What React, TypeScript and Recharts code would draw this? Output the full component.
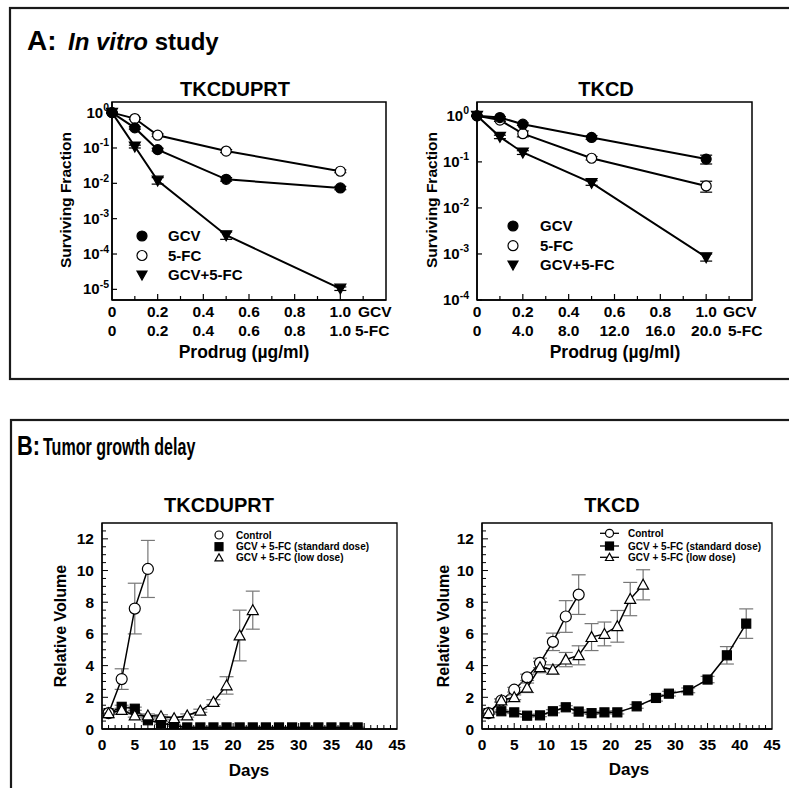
import React from 'react';
import { LineChart, Line, XAxis, YAxis, ErrorBar, ReferenceArea } from 'recharts';

const FONT = '"Liberation Sans", Arial, Helvetica, sans-serif';

// ---------- A: in vitro study ----------
const doses = [0, 0.1, 0.2, 0.5, 1.0];
const doseTicks = [0, 0.1, 0.2, 0.3, 0.4, 0.5, 0.6, 0.7, 0.8, 0.9, 1.0, 1.1, 1.2];
const gcvDoseLabels = ['0', '0.2', '0.4', '0.6', '0.8', '1.0'];
const fcDoseLabelsTkcduprt = ['0', '0.2', '0.4', '0.6', '0.8', '1.0'];
const fcDoseLabelsTkcd = ['0', '4.0', '8.0', '12.0', '16.0', '20.0'];

const tkcduprtGcv = [1, 0.37, 0.09, 0.013, 0.0074];
const tkcduprtGcvErr = [0.02, 0.03, 0.008, 0.0015, 0.0008];
const tkcduprtFc = [1, 0.68, 0.23, 0.082, 0.022];
const tkcduprtFcErr = [0.02, 0.04, 0.02, 0.008, 0.002];
const tkcduprtCombo = [1, 0.11, 0.012, 0.00034, 0.0000105];
const tkcduprtComboErr = [0.02, 0.01, 0.0025, 0.00008, 0.0000012];

const tkcdGcv = [1, 0.92, 0.66, 0.34, 0.115];
const tkcdGcvErr = [0.02, 0.04, 0.04, 0.03, 0.025];
const tkcdFc = [1, 0.81, 0.41, 0.12, 0.03];
const tkcdFcErr = [0.02, 0.05, 0.06, 0.01, 0.008];
const tkcdCombo = [1, 0.35, 0.16, 0.035, 0.00085];
const tkcdComboErr = [0.02, 0.03, 0.015, 0.004, 0.00015];

const survTicksTkcduprt = [1e-5, 1e-4, 1e-3, 1e-2, 1e-1, 1];
const survTicksTkcd = [1e-4, 1e-3, 1e-2, 1e-1, 1];

// ---------- B: tumor growth delay ----------
const dayTicks = [0, 1, 2, 3, 4, 5, 6, 7, 8, 9, 10, 11, 12, 13, 14, 15, 16, 17, 18, 19, 20, 21, 22, 23,
  24, 25, 26, 27, 28, 29, 30, 31, 32, 33, 34, 35, 36, 37, 38, 39, 40, 41, 42, 43, 44, 45];
const volumeTicks = [0, 0.5, 1, 1.5, 2, 2.5, 3, 3.5, 4, 4.5, 5, 5.5, 6, 6.5, 7, 7.5, 8, 8.5, 9, 9.5,
  10, 10.5, 11, 11.5, 12, 12.5, 13];

const controlDaysTkcduprt = [1, 3, 5, 7];
const controlTkcduprt = [1.0, 3.15, 7.6, 10.1];
const controlErrTkcduprt = [0.08, 0.65, 1.6, 1.8];
const standardDaysTkcduprt = [1, 3, 5, 7, 9, 11, 13, 15, 17, 19, 21, 23, 25, 27, 29, 31, 33, 35, 37, 39];
const standardTkcduprt = [1.0, 1.4, 1.28, 0.55, 0.38, 0.22, 0.1, 0.1, 0.1, 0.1, 0.1, 0.1, 0.1, 0.1,
  0.1, 0.1, 0.1, 0.1, 0.1, 0.1];
const standardErrTkcduprt = [0.05, 0.1, 0.1, 0.08, 0.08, 0.05, 0.02, 0.02, 0.02, 0.02, 0.02, 0.02,
  0.02, 0.02, 0.02, 0.02, 0.02, 0.02, 0.02, 0.02];
const lowDaysTkcduprt = [1, 3, 5, 7, 9, 11, 13, 15, 17, 19, 21, 23];
const lowTkcduprt = [1.0, 1.2, 0.85, 0.85, 0.8, 0.68, 0.85, 1.15, 1.7, 2.75, 5.9, 7.5];
const lowErrTkcduprt = [0.05, 0.1, 0.1, 0.1, 0.1, 0.1, 0.1, 0.1, 0.15, 0.55, 1.6, 1.2];

const controlDaysTkcd = [1, 3, 5, 7, 9, 11, 13, 15];
const controlTkcd = [1.0, 1.8, 2.48, 3.26, 4.17, 5.5, 7.1, 8.48];
const controlErrTkcd = [0.05, 0.1, 0.15, 0.2, 0.3, 0.55, 1.0, 1.25];
const standardDaysTkcd = [1, 3, 5, 7, 9, 11, 13, 15, 17, 19, 21, 24, 27, 29, 32, 35, 38, 41];
const standardTkcd = [1.0, 1.12, 1.05, 0.84, 0.86, 1.12, 1.37, 1.1, 1.0, 1.05, 1.05, 1.43, 1.96,
  2.23, 2.44, 3.12, 4.65, 6.65];
const standardErrTkcd = [0.05, 0.08, 0.08, 0.08, 0.08, 0.1, 0.1, 0.1, 0.08, 0.08, 0.1, 0.12, 0.2,
  0.15, 0.15, 0.2, 0.55, 0.93];
const lowDaysTkcd = [1, 3, 5, 7, 9, 11, 13, 15, 17, 19, 21, 23, 25];
const lowTkcd = [1.0, 1.8, 2.0, 2.6, 3.9, 3.75, 4.38, 4.65, 5.8, 6.0, 6.48, 8.2, 9.1];
const lowErrTkcd = [0.05, 0.1, 0.15, 0.3, 0.35, 0.3, 0.45, 0.6, 0.85, 0.75, 1.0, 1.05, 0.95];

const toRows = (xs: number[], ys: number[], errs: number[]) =>
  xs.map((x, i) => ({ x, v: ys[i], err: errs[i] }));

const inVitroRows = (gcv: number[], gcvErr: number[], fc: number[], fcErr: number[], combo: number[], comboErr: number[]) =>
  doses.map((d, i) => ({
    dose: d,
    gcv: gcv[i], gcvErr: gcvErr[i],
    fc: fc[i], fcErr: fcErr[i],
    combo: combo[i], comboErr: comboErr[i],
  }));

// ---------- markers ----------
const Marker = ({ shape, cx, cy, s }: { shape: string; cx: number; cy: number; s: number }) => {
  const sw = 1.2;
  switch (shape) {
    case 'circle':
      return <circle cx={cx} cy={cy} r={s / 2} fill="#000" stroke="#000" strokeWidth={sw} />;
    case 'openCircle':
      return <circle cx={cx} cy={cy} r={s / 2} fill="#fff" stroke="#000" strokeWidth={sw} />;
    case 'triDown':
      return (
        <polygon
          points={`${cx - s / 2},${cy - s * 0.4} ${cx + s / 2},${cy - s * 0.4} ${cx},${cy + s * 0.5}`}
          fill="#000" stroke="#000" strokeWidth={sw}
        />
      );
    case 'square':
      return <rect x={cx - s / 2} y={cy - s / 2} width={s} height={s} fill="#000" stroke="#000" strokeWidth={sw} />;
    case 'openTriUp':
      return (
        <polygon
          points={`${cx - s / 2},${cy + s * 0.4} ${cx + s / 2},${cy + s * 0.4} ${cx},${cy - s * 0.5}`}
          fill="#fff" stroke="#000" strokeWidth={sw}
        />
      );
    default:
      return null;
  }
};

const dotOf = (shape: string, s: number) => (p: any) => (
  <Marker key={`${shape}-${p.index}`} shape={shape} cx={p.cx} cy={p.cy} s={s} />
);

// ---------- ticks ----------
const DoseTick = ({ x, y, payload, fcLabels, gcvShift, fcShift }: any) => {
  const idx = Math.round(payload.value * 10);
  const major = idx % 2 === 0;
  const style = { fontSize: 15.5, fontWeight: 'bold' as const, fontFamily: FONT };
  let top: React.ReactNode = null;
  let bottom: React.ReactNode = null;
  if (major && idx <= 10) {
    top = <text x={x} y={y + 17} textAnchor="middle" {...style}>{gcvDoseLabels[idx / 2]}</text>;
    bottom = <text x={x} y={y + 35.5} textAnchor="middle" {...style}>{fcLabels[idx / 2]}</text>;
  } else if (idx === 12) {
    top = <text x={x - gcvShift} y={y + 17} textAnchor="start" {...style}>GCV</text>;
    bottom = <text x={x - fcShift} y={y + 35.5} textAnchor="start" {...style}>5-FC</text>;
  }
  return (
    <g>
      {idx > 0 && idx < 12 && (
        <line x1={x} x2={x} y1={y} y2={y - (major ? 6 : 4)} stroke="#000" strokeWidth={1.2} />
      )}
      {top}
      {bottom}
    </g>
  );
};

const LogTick = ({ x, y, payload, gap }: any) => {
  const exp = Math.round(Math.log10(payload.value));
  return (
    <g>
      <line x1={x} x2={x + 5} y1={y} y2={y} stroke="#000" strokeWidth={1.2} />
      <text x={x - gap} y={y + 5} textAnchor="end" fontSize={15} fontWeight="bold" fontFamily={FONT}>
        <tspan>10</tspan>
        <tspan dy={-6.5} fontSize={10.5}>{String(exp)}</tspan>
      </text>
    </g>
  );
};

const DayTick = ({ x, y, payload }: any) => {
  const v = payload.value;
  const major = v % 5 === 0;
  return (
    <g>
      {v > 0 && v < 45 && <line x1={x} x2={x} y1={y} y2={y - (major ? 6 : 4)} stroke="#000" strokeWidth={1} />}
      {major && (
        <text x={x} y={y + 21} textAnchor="middle" fontSize={15.5} fontWeight="bold" fontFamily={FONT}>
          {v}
        </text>
      )}
    </g>
  );
};

const VolumeTick = ({ x, y, payload }: any) => {
  const v = payload.value;
  const major = v % 2 === 0 && v <= 12;
  return (
    <g>
      {v > 0 && v < 13 && <line x1={x} x2={x + (major ? 6 : 4)} y1={y} y2={y} stroke="#000" strokeWidth={1} />}
      {major && (
        <text x={x - 8} y={y + 5.5} textAnchor="end" fontSize={15.5} fontWeight="bold" fontFamily={FONT}>
          {v}
        </text>
      )}
    </g>
  );
};

// ---------- charts ----------
const InVitroChart = ({ rows, yDomain, yTicks, fcLabels, width, yAxisWidth, marginRight, gcvShift, fcShift, labelGap }: any) => (
  <LineChart width={width} height={300} margin={{ top: 22, right: marginRight, bottom: 0, left: 0 }} data={rows}>
    <XAxis
      dataKey="dose" type="number" domain={[0, 1.2]} ticks={doseTicks} interval={0}
      height={80} tickSize={0} tickMargin={0} tickLine={false}
      axisLine={{ stroke: '#000', strokeWidth: 1.5 }}
      tick={(p: any) => <DoseTick {...p} fcLabels={fcLabels} gcvShift={gcvShift} fcShift={fcShift} />}
    />
    <YAxis
      type="number" scale="log" domain={yDomain} ticks={yTicks} interval={0} allowDataOverflow
      width={yAxisWidth} tickSize={0} tickMargin={0} tickLine={false}
      axisLine={{ stroke: '#000', strokeWidth: 1.5 }}
      tick={(p: any) => <LogTick {...p} gap={labelGap} />}
    />
    <ReferenceArea x1={0} x2={1.2} y1={yDomain[0]} y2={yDomain[1]} fill="none" stroke="#000" strokeWidth={1.5} fillOpacity={0} />
    <Line dataKey="fc" type="linear" stroke="#000" strokeWidth={2} isAnimationActive={false} dot={dotOf('openCircle', 10)}>
      <ErrorBar dataKey="fcErr" width={6} stroke="#000" strokeWidth={1.2} />
    </Line>
    <Line dataKey="gcv" type="linear" stroke="#000" strokeWidth={2} isAnimationActive={false} dot={dotOf('circle', 10)}>
      <ErrorBar dataKey="gcvErr" width={6} stroke="#000" strokeWidth={1.2} />
    </Line>
    <Line dataKey="combo" type="linear" stroke="#000" strokeWidth={2} isAnimationActive={false} dot={dotOf('triDown', 11)}>
      <ErrorBar dataKey="comboErr" width={6} stroke="#000" strokeWidth={1.2} />
    </Line>
  </LineChart>
);

const GrowthChart = ({ control, standard, low, width, yAxisWidth, marginRight }: any) => (
  <LineChart width={width} height={288} margin={{ top: 23, right: marginRight, bottom: 0, left: 0 }}>
    <XAxis
      dataKey="x" type="number" domain={[0, 45]} ticks={dayTicks} interval={0}
      height={59} tickSize={0} tickMargin={0} tickLine={false}
      axisLine={{ stroke: '#000', strokeWidth: 1.3 }}
      tick={(p: any) => <DayTick {...p} />}
    />
    <YAxis
      type="number" domain={[0, 13]} ticks={volumeTicks} interval={0} allowDataOverflow
      width={yAxisWidth} tickSize={0} tickMargin={0} tickLine={false}
      axisLine={{ stroke: '#000', strokeWidth: 1.3 }}
      tick={(p: any) => <VolumeTick {...p} />}
    />
    <ReferenceArea x1={0} x2={45} y1={0} y2={13} fill="none" stroke="#000" strokeWidth={1.3} fillOpacity={0} />
    <Line data={standard} dataKey="v" type="linear" stroke="#000" strokeWidth={1.5} isAnimationActive={false} dot={dotOf('square', 9)}>
      <ErrorBar dataKey="err" width={7} stroke="#777" strokeWidth={1.2} />
    </Line>
    <Line data={control} dataKey="v" type="linear" stroke="#000" strokeWidth={1.5} isAnimationActive={false} dot={dotOf('openCircle', 11)}>
      <ErrorBar dataKey="err" width={7} stroke="#777" strokeWidth={1.2} />
    </Line>
    <Line data={low} dataKey="v" type="linear" stroke="#000" strokeWidth={1.5} isAnimationActive={false} dot={dotOf('openTriUp', 11)}>
      <ErrorBar dataKey="err" width={7} stroke="#777" strokeWidth={1.2} />
    </Line>
  </LineChart>
);

// ---------- overlay text / legends ----------
const T = ({ x, y, size, anchor = 'middle', rotate = false, children, italic = false }: any) => (
  <text
    x={x} y={y} fontSize={size} fontWeight="bold" fontFamily={FONT} textAnchor={anchor}
    fontStyle={italic ? 'italic' : 'normal'}
    transform={rotate ? `rotate(-90 ${x} ${y})` : undefined}
  >
    {children}
  </text>
);

const LegendBlock = ({ items, sx, tx, rows, size, s, withLine }: any) => (
  <g>
    {items.map((it: any, i: number) => (
      <g key={it.label}>
        {withLine && <line x1={sx - 9.5} x2={sx + 9.5} y1={rows[i]} y2={rows[i]} stroke="#000" strokeWidth={1.3} />}
        <Marker shape={it.shape} cx={sx} cy={rows[i]} s={s} />
        <text x={tx} y={rows[i] + size * 0.36} fontSize={size} fontWeight="bold" fontFamily={FONT}>
          {it.label}
        </text>
      </g>
    ))}
  </g>
);

const inVitroLegend = [
  { shape: 'circle', label: 'GCV' },
  { shape: 'openCircle', label: '5-FC' },
  { shape: 'triDown', label: 'GCV+5-FC' },
];
const growthLegend = [
  { shape: 'openCircle', label: 'Control' },
  { shape: 'square', label: 'GCV + 5-FC (standard dose)' },
  { shape: 'openTriUp', label: 'GCV + 5-FC (low dose)' },
];

export default function App() {
  const box = (left: number, top: number, width: number, height: number): React.CSSProperties => ({
    position: 'absolute', left, top, width, height,
  });
  return (
    <div style={{ position: 'absolute', left: 0, top: 0, width: 789, height: 788, background: '#fff', overflow: 'hidden', fontFamily: FONT }}>
      <div style={box(0, 80, 400, 300)}>
        <InVitroChart
          rows={inVitroRows(tkcduprtGcv, tkcduprtGcvErr, tkcduprtFc, tkcduprtFcErr, tkcduprtCombo, tkcduprtComboErr)}
          yDomain={[5e-6, 2]} yTicks={survTicksTkcduprt} fcLabels={fcDoseLabelsTkcduprt}
          width={400} yAxisWidth={112} marginRight={14} gcvShift={28} fcShift={31} labelGap={3}
        />
      </div>
      <div style={box(400, 80, 389, 300)}>
        <InVitroChart
          rows={inVitroRows(tkcdGcv, tkcdGcvErr, tkcdFc, tkcdFcErr, tkcdCombo, tkcdComboErr)}
          yDomain={[1e-4, 2]} yTicks={survTicksTkcd} fcLabels={fcDoseLabelsTkcd}
          width={389} yAxisWidth={77} marginRight={37} gcvShift={29} fcShift={24} labelGap={8}
        />
      </div>
      <div style={box(0, 500, 415, 288)}>
        <GrowthChart
          control={toRows(controlDaysTkcduprt, controlTkcduprt, controlErrTkcduprt)}
          standard={toRows(standardDaysTkcduprt, standardTkcduprt, standardErrTkcduprt)}
          low={toRows(lowDaysTkcduprt, lowTkcduprt, lowErrTkcduprt)}
          width={415} yAxisWidth={102} marginRight={18}
        />
      </div>
      <div style={box(420, 500, 369, 288)}>
        <GrowthChart
          control={toRows(controlDaysTkcd, controlTkcd, controlErrTkcd)}
          standard={toRows(standardDaysTkcd, standardTkcd, standardErrTkcd)}
          low={toRows(lowDaysTkcd, lowTkcd, lowErrTkcd)}
          width={369} yAxisWidth={62} marginRight={17}
        />
      </div>

      <svg width={789} height={788} style={{ position: 'absolute', left: 0, top: 0, pointerEvents: 'none' }}>
        <rect x={10} y={8} width={800} height={371} fill="none" stroke="#1a1a1a" strokeWidth={2.2} />
        <rect x={11} y={420} width={800} height={400} fill="none" stroke="#1a1a1a" strokeWidth={2.2} />

        <T x={27} y={50} size={28} anchor="start">A:</T>
        <text x={68} y={50} fontSize={24} fontWeight="bold" fontFamily={FONT}>
          <tspan fontStyle="italic">In vitro</tspan>
          <tspan>{' study'}</tspan>
        </text>
        <g transform="translate(17 455) scale(0.78 1)">
          <T x={0} y={0} size={28} anchor="start">B:</T>
        </g>
        <g transform="translate(43 455) scale(0.67 1)">
          <T x={0} y={0} size={24} anchor="start">Tumor growth delay</T>
        </g>

        <T x={235} y={96} size={20}>TKCDUPRT</T>
        <T x={606} y={96} size={20}>TKCD</T>
        <T x={219} y={512} size={20}>TKCDUPRT</T>
        <T x={612} y={512} size={20}>TKCD</T>

        <T x={70.5} y={200} size={15.5} rotate>Surviving Fraction</T>
        <T x={437} y={200} size={15.5} rotate>Surviving Fraction</T>
        <T x={65.7} y={626} size={16} rotate>Relative Volume</T>
        <T x={448.7} y={626} size={16} rotate>Relative Volume</T>

        <T x={244} y={358} size={17.5}>Prodrug (µg/ml)</T>
        <T x={615} y={358} size={17.5}>Prodrug (µg/ml)</T>
        <T x={249} y={776} size={17}>Days</T>
        <T x={629} y={775} size={17}>Days</T>

        <LegendBlock items={inVitroLegend} sx={142} tx={168} rows={[236, 255.5, 275]} size={15} s={10} />
        <LegendBlock items={inVitroLegend} sx={513} tx={540} rows={[226, 245.7, 265]} size={15} s={10} />
        <LegendBlock items={growthLegend} sx={219} tx={236} rows={[535, 546.7, 557.7]} size={10} s={8} />
        <LegendBlock items={growthLegend} sx={609.5} tx={628} rows={[533.3, 546, 557.3]} size={10} s={8} withLine />
      </svg>
    </div>
  );
}
